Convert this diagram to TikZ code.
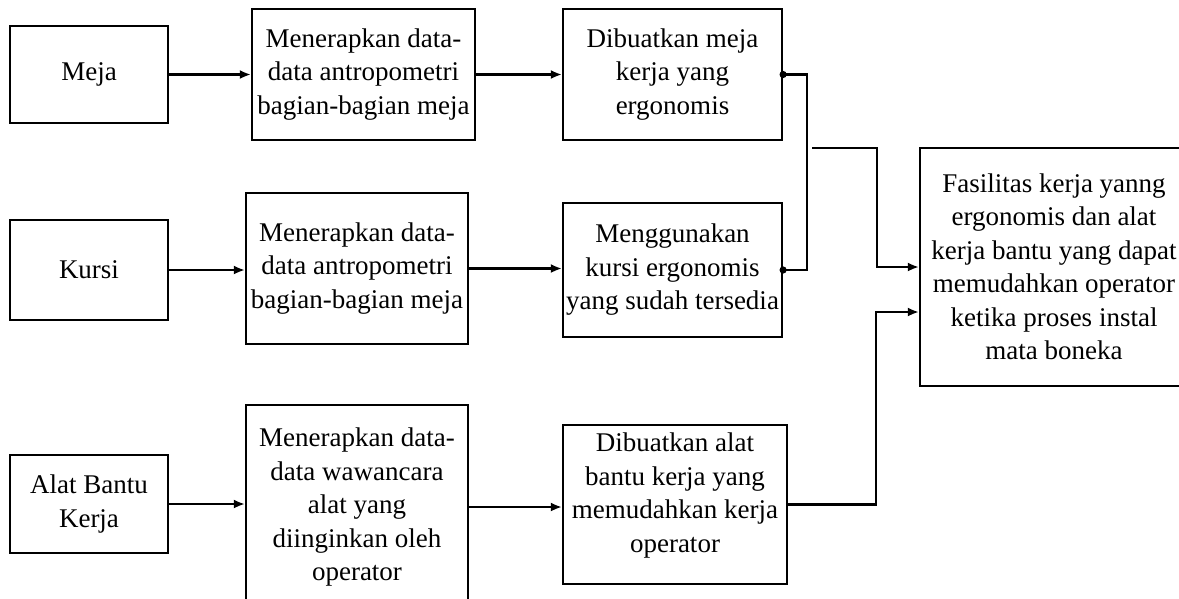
\documentclass[tikz,border=0pt]{standalone}
\usepackage{fontspec}
\setmainfont{Liberation Serif}
\usetikzlibrary{arrows.meta}
\begin{document}
\begin{tikzpicture}[x=1pt,y=-1pt,
  every node/.style={font=\fontsize{27}{33.5}\selectfont},
  box/.style={draw, line width=2.2pt, align=center, inner sep=1pt},
  arr/.style={line width=2.2pt, -{Latex[length=11pt,width=9pt]}},
  link/.style={line width=2.2pt}]
\useasboundingbox (0,0) rectangle (1179,598);

% left column: the three objects
\node[box, minimum width=158, minimum height=97]  (meja)  at (89,74.5) {Meja};
\node[box, minimum width=158, minimum height=100] (kursi) at (89,270) {Kursi};
\node[box, minimum width=158, minimum height=98]  (alat)  at (89,504) {Alat Bantu\\Kerja};

% middle column: applied data
\node[box, minimum width=223, minimum height=131] (m1) at (363.5,74.5)
  {Menerapkan data-\\data antropometri\\bagian-bagian meja};
\node[box, minimum width=222, minimum height=151] (m2) at (357,268.5)
  {Menerapkan data-\\data antropometri\\bagian-bagian meja};
\node[box, minimum width=222, minimum height=204] (m3) at (357,507)
  {Menerapkan data-\\data wawancara\\alat yang\\diinginkan oleh\\operator};

% right column: results
\node[box, minimum width=219, minimum height=131] (d1) at (672.5,74.5)
  {Dibuatkan meja\\kerja yang\\ergonomis};
\node[box, minimum width=219, minimum height=134] (d2) at (672.5,270)
  {Menggunakan\\kursi ergonomis\\yang sudah tersedia};
\node[box, minimum width=224, minimum height=159] (d3) at (675,504.5)
  {Dibuatkan alat\\bantu kerja yang\\memudahkan kerja\\operator\\[-10pt]\mbox{}};

% final outcome
\node[box, minimum width=268, minimum height=238] (fin) at (1054,267)
  {Fasilitas kerja yanng\\ergonomis dan alat\\kerja bantu yang dapat\\memudahkan operator\\ketika proses instal\\mata boneka};

% horizontal flows
\draw[arr] (meja.east) -- (meja.east -| m1.west);
\draw[arr] (m1.east) -- (m1.east -| d1.west);
\draw[arr] (kursi.east) -- (kursi.east -| m2.west);
\draw[arr] (m2.east) -- (m2.east -| d2.west);
\draw[arr] (alat.east) -- (alat.east -| m3.west);
\draw[arr] (m3.east) -- (m3.east -| d3.west);

% bracket joining the desk and chair results
\draw[link] (d1.east) -- ++(24,0) |- (d2.east);
\fill (d1.east) circle (3.6);
\fill (d2.east) circle (3.6);

% lines into the final outcome
\coordinate (j) at (812,148);
\draw[arr] (j) -- (877,148) |- (fin.west);
\coordinate (k) at (876,312);
\draw[arr] (d3.east) -| (k) -- (k -| fin.west);
\end{tikzpicture}
\end{document}
